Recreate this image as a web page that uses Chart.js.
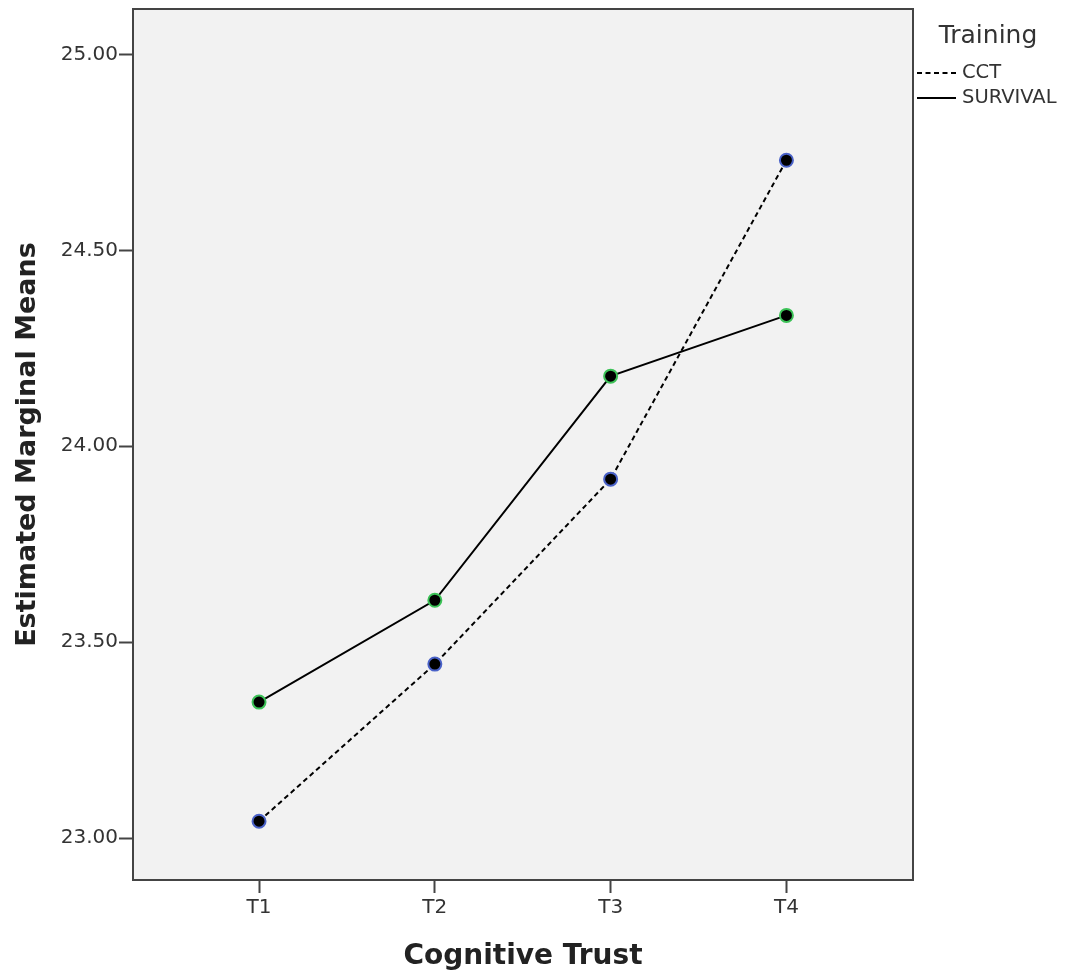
<!DOCTYPE html>
<html>
<head>
<meta charset="utf-8">
<script src="https://cdn.jsdelivr.net/npm/chart.js@4.4.1/dist/chart.umd.min.js"></script>
<style>
  html, body { margin: 0; padding: 0; background: #fff; }
  #wrap { width: 1065px; height: 974px; }
</style>
</head>
<body>
<div id="wrap"><canvas id="plot"></canvas></div>
<script>
// data
var categories = ['T1', 'T2', 'T3', 'T4'];
var cctMeans = [23.043, 23.444, 23.916, 24.730];
var survivalMeans = [23.347, 23.607, 24.179, 24.334];
var yTicks = [23.00, 23.50, 24.00, 24.50, 25.00];
var seriesNames = ['CCT', 'SURVIVAL'];

var FONT = "'DejaVu Sans', sans-serif";

function toPoints(vals) {
    return vals.map(function (v, i) { return { x: i + 1, y: v }; });
}

// plot frame, background and legend
var framePlugin = {
    id: 'frame',
    beforeDraw: function (chart) {
        var a = chart.chartArea, c = chart.ctx;
        c.save();
        c.fillStyle = '#f2f2f2';
        c.fillRect(a.left, a.top, a.right - a.left, a.bottom - a.top);
        c.restore();
    },
    afterDraw: function (chart) {
        var a = chart.chartArea, c = chart.ctx;
        c.save();
        c.strokeStyle = '#444';
        c.lineWidth = 2;
        c.strokeRect(a.left, a.top, a.right - a.left, a.bottom - a.top);

        // legend
        c.fillStyle = '#333';
        c.textBaseline = 'middle';
        c.font = '25px ' + FONT;
        c.textAlign = 'center';
        c.fillText('Training', 988, 36);
        c.textAlign = 'left';
        c.font = '19.5px ' + FONT;
        chart.data.datasets.forEach(function (ds, i) {
            var y = 73 + i * 25;
            c.strokeStyle = '#000';
            c.lineWidth = 2;
            c.setLineDash(ds.borderDash || []);
            c.beginPath();
            c.moveTo(917, y);
            c.lineTo(956, y);
            c.stroke();
            c.setLineDash([]);
            c.fillText(ds.label, 962, y);
        });
        c.restore();
    }
};

new Chart(document.getElementById('plot'), {
    type: 'line',
    data: {
        datasets: [{
            label: seriesNames[0],
            data: toPoints(cctMeans),
            borderColor: '#000',
            borderWidth: 2,
            borderDash: [5, 3.5],
            pointRadius: 6.5,
            pointBackgroundColor: '#000',
            pointBorderColor: '#4a62c8',
            pointBorderWidth: 2
        }, {
            label: seriesNames[1],
            data: toPoints(survivalMeans),
            borderColor: '#000',
            borderWidth: 2,
            pointRadius: 6.5,
            pointBackgroundColor: '#000',
            pointBorderColor: '#3cc257',
            pointBorderWidth: 2
        }]
    },
    options: {
        responsive: true,
        maintainAspectRatio: false,
        animation: false,
        layout: { padding: { top: 9, right: 152, left: 0, bottom: 0 } },
        plugins: { legend: { display: false }, tooltip: { enabled: false } },
        scales: {
            x: {
                type: 'linear',
                min: 0.283,
                max: 4.72,
                afterBuildTicks: function (axis) {
                    axis.ticks = categories.map(function (c, i) { return { value: i + 1 }; });
                },
                afterFit: function (axis) {
                    axis.height = 94;
                    axis.paddingLeft = 0;
                    axis.paddingRight = 0;
                },
                grid: { drawOnChartArea: false, tickLength: 13, color: '#444', tickWidth: 2 },
                border: { display: false },
                ticks: {
                    padding: 3,
                    color: '#333',
                    font: { family: FONT, size: 20 },
                    callback: function (v) { return categories[v - 1]; }
                },
                title: {
                    display: true,
                    text: 'Cognitive Trust',
                    color: '#222',
                    font: { family: FONT, size: 28, weight: 'bold' },
                    padding: { top: 0, bottom: 0 }
                }
            },
            y: {
                min: 22.893,
                max: 25.116,
                afterBuildTicks: function (axis) {
                    axis.ticks = yTicks.map(function (v) { return { value: v }; });
                },
                afterFit: function (axis) {
                    axis.width = 133;
                    axis.paddingTop = 0;
                    axis.paddingBottom = 0;
                },
                grid: { drawOnChartArea: false, tickLength: 14, color: '#444', tickWidth: 2 },
                border: { display: false },
                ticks: {
                    padding: 1,
                    color: '#333',
                    font: { family: FONT, size: 20 },
                    callback: function (v) { return v.toFixed(2); }
                },
                title: {
                    display: true,
                    text: 'Estimated Marginal Means',
                    color: '#222',
                    font: { family: FONT, size: 27, weight: 'bold' },
                    padding: { top: 12, bottom: 0 }
                }
            }
        }
    },
    plugins: [framePlugin]
});
</script>
</body>
</html>
